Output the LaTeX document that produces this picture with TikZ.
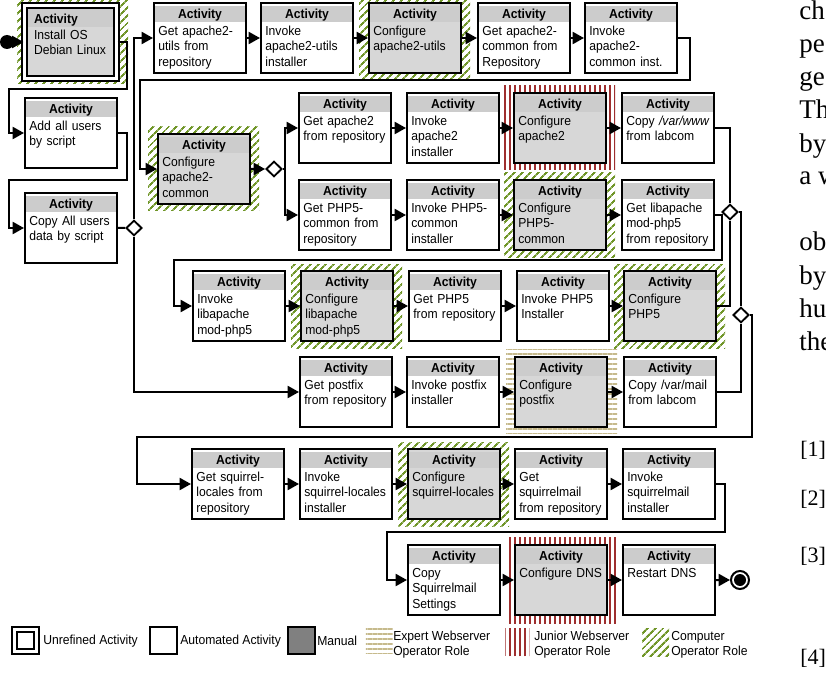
\documentclass[tikz,border=0pt]{standalone}
\usepackage{fontspec}
\setmainfont{Liberation Sans}
\newfontfamily\actfam{Liberation Sans}[FakeStretch=0.93]
\newfontfamily\pagefont{Liberation Serif}
\usetikzlibrary{arrows.meta}
\usetikzlibrary{backgrounds}
\usetikzlibrary{calc}
\usetikzlibrary{shapes.geometric}
\usetikzlibrary{patterns.meta}

\definecolor{bandgray}{RGB}{204,204,204}
\definecolor{mangray}{RGB}{215,215,215}
\definecolor{darkman}{RGB}{128,128,128}
\definecolor{compgreen}{RGB}{112,150,40}
\definecolor{juniorred}{RGB}{158,46,46}
\definecolor{experttan}{RGB}{198,186,140}

\newcommand{\actfont}{\actfam\fontsize{9.8}{11.5}\selectfont}
\newcommand{\acthead}{\setlength{\fboxsep}{0pt}\colorbox{bandgray}{\makebox[\hsize]{\rule[-2.6pt]{0pt}{12pt}\bfseries Activity}}\par\vspace{1.2pt}\leftskip=2.2pt\relax}
\newcommand{\unrefhead}{\setlength{\fboxsep}{0pt}\colorbox{bandgray}{\makebox[\hsize][l]{\rule[-2.75pt]{0pt}{13.5pt}\hspace*{4.5pt}\bfseries Activity}}\par\vspace{0.5pt}\leftskip=4.5pt\relax}

\tikzset{
  act/.style={draw, line width=1.8pt, fill=white, anchor=north west, inner xsep=0.9pt, inner ysep=0pt, text width=66.9pt, align=left, font=\actfont, text height=11.5pt, text depth=40.7pt, execute at begin node=\acthead},
  man/.style={act, fill=mangray},
  unref/.style={draw, double, line width=1.5pt, double distance=2.25pt, fill=mangray, anchor=north west, inner xsep=2.625pt, inner ysep=0pt, text width=63.75pt, align=left, font=\actfont, text height=13.35pt, text depth=41.4pt, execute at begin node=\unrefhead},
  dia/.style={diamond, draw, line width=1.4pt, fill=white, minimum width=12pt, minimum height=11.5pt, inner sep=0pt},
  startdot/.style={circle, fill=black, minimum size=10.5pt, inner sep=0pt},
  enddot/.style={circle, draw, line width=1.5pt, fill=white, minimum size=13.5pt, inner sep=0pt, path picture={\fill[black] (path picture bounding box.center) circle (4.5pt);}},
  flow/.style={line width=1.5pt, -{Triangle[length=8.5pt,width=9pt]}},
  link/.style={line width=1.5pt},
  computer/.style={pattern={Lines[angle=45,distance=4pt,line width=1.6pt]}, pattern color=compgreen},
  junior/.style={pattern={Lines[angle=90,distance=3.75pt,line width=1.9pt]}, pattern color=juniorred},
  expert/.style={pattern={Lines[angle=0,distance=3.75pt,line width=1.4pt]}, pattern color=experttan},
  lgbox/.style={draw, line width=1.8pt, anchor=north west, minimum size=19.95pt, inner sep=0pt},
  legtext/.style={anchor=west, inner sep=0.75pt, font=\actfont, align=left},
  pagetext/.style={anchor=base west, inner sep=0pt, font=\pagefont\fontsize{20.25}{24.75}\selectfont},
  reftext/.style={anchor=base west, inner sep=0pt, font=\pagefont\fontsize{16.5}{19}\selectfont}
}

\begin{document}
\begin{tikzpicture}[x=0.75pt,y=0.75pt,yscale=-1,xscale=1]
\useasboundingbox (0,0) rectangle (826,674);

%Shape: Start and end
\node[startdot] (start) at (7,42) {};
\node[enddot] (stop) at (740,580) {};

%Shape: Left column
\node[unref] (inst) at (23.5,4.5) {Install OS\\Debian Linux};
\node[act] (addusr) at (24,97) {Add all users\\by script};
\node[act] (cpyusr) at (24,192) {Copy All users\\data by script};

%Shape: apache2-utils and apache2-common
\node[act] (getutils) at (153,2) {Get apache2-\\utils from\\repository};
\node[act] (invutils) at (260,2) {Invoke\\apache2-utils\\installer};
\node[man] (confutils) at (368,2) {Configure\\apache2-utils};
\node[act] (getcommon) at (477,2) {Get apache2-\\common from\\Repository};
\node[act] (invcommon) at (584,2) {Invoke\\apache2-\\common inst.};
\node[man] (confcommon) at (157,133) {Configure\\apache2-\\common};

%Shape: apache2
\node[act] (getapache) at (298,92) {Get apache2\\from repository};
\node[act] (invapache) at (406,92) {Invoke\\apache2\\installer};
\node[man] (confapache) at (513,92) {Configure\\apache2};
\node[act] (cpywww) at (621,92) {Copy \textit{/var/www}\\from labcom};

%Shape: PHP5-common
\node[act] (getphpcom) at (298,179) {Get PHP5-\\common from\\repository};
\node[act] (invphpcom) at (406,179) {Invoke PHP5-\\common\\installer};
\node[man] (confphpcom) at (513,179) {Configure\\PHP5-\\common};
\node[act] (getlibap) at (621,179) {Get libapache\\mod-php5\\from repository};

%Shape: libapache and PHP5
\node[act] (invlibap) at (192,270) {Invoke\\libapache\\mod-php5};
\node[man] (conflibap) at (300,270) {Configure\\libapache\\mod-php5};
\node[act] (getphp) at (408,270) {Get PHP5\\from repository};
\node[act] (invphp) at (516,270) {Invoke PHP5\\Installer};
\node[man] (confphp) at (623,270) {Configure\\PHP5};

%Shape: postfix
\node[act] (getpostfix) at (299,356) {Get postfix\\from repository};
\node[act] (invpostfix) at (406,356) {Invoke postfix\\installer};
\node[man] (confpostfix) at (514,356) {Configure\\postfix};
\node[act] (cpymail) at (623,356) {Copy /var/mail\\from labcom};

%Shape: squirrel
\node[act] (getsqloc) at (191,448) {Get squirrel-\\locales from\\repository};
\node[act] (invsqloc) at (299,448) {Invoke\\squirrel-locales\\installer};
\node[man] (confsqloc) at (407,448) {Configure\\squirrel-locales};
\node[act] (getsqmail) at (514,448) {Get\\squirrelmail\\from repository};
\node[act] (invsqmail) at (622,448) {Invoke\\squirrelmail\\installer};

%Shape: DNS
\node[act] (cpysqset) at (407,544) {Copy\\Squirrelmail\\Settings};
\node[man] (confdns) at (514,544) {Configure DNS};
\node[act] (restdns) at (622,544) {Restart DNS};

%Shape: Diamonds
\node[dia] (d0) at (134,228) {};
\node[dia] (d1) at (274,169) {};
\node[dia] (d2) at (730,212) {};
\node[dia] (d3) at (741,315) {};

%Straight Lines
\draw[flow] (start.east) -- (inst.west);
\draw[flow] (inst.east) -| (127,89) -- (9,89) |- (addusr.west);
\draw[flow] (addusr.east) -| (127,180) -- (9,180) |- (cpyusr.west);
\draw[link] (cpyusr.east) -- (d0.west);
\draw[flow] (d0.north) |- (getutils.west);
\draw[flow] (d0.south) |- (getpostfix.west);
\draw[flow] (getutils.east) -- (invutils.west);
\draw[flow] (invutils.east) -- (confutils.west);
\draw[flow] (confutils.east) -- (getcommon.west);
\draw[flow] (getcommon.east) -- (invcommon.west);
\draw[flow] (invcommon.east) -| (690,80) -- (140,80) |- (confcommon.west);
\draw[flow] (confcommon.east) -- (d1.west);
\draw[flow] (d1.east) -- ++(2,0) |- (getapache.west);
\draw[flow] (d1.east) -- ++(2,0) |- (getphpcom.west);
\draw[flow] (getapache.east) -- (invapache.west);
\draw[flow] (invapache.east) -- (confapache.west);
\draw[flow] (confapache.east) -- (cpywww.west);
\draw[link] (cpywww.east) -| (d2.north);
\draw[flow] (getphpcom.east) -- (invphpcom.west);
\draw[flow] (invphpcom.east) -- (confphpcom.west);
\draw[flow] (confphpcom.east) -- (getlibap.west);
\draw[flow] (getlibap.east) -| (722,260) -- (174,260) |- (invlibap.west);
\draw[flow] (invlibap.east) -- (conflibap.west);
\draw[flow] (conflibap.east) -- (getphp.west);
\draw[flow] (getphp.east) -- (invphp.west);
\draw[flow] (invphp.east) -- (confphp.west);
\draw[link] (confphp.east) -| (d2.south);
\draw[link] (d2.east) -| (d3.north);
\draw[flow] (getpostfix.east) -- (invpostfix.west);
\draw[flow] (invpostfix.east) -- (confpostfix.west);
\draw[flow] (confpostfix.east) -- (cpymail.west);
\draw[link] (cpymail.east) -| (d3.south);
\draw[flow] (d3.east) -| (752,437) -- (137,437) |- (getsqloc.west);
\draw[flow] (getsqloc.east) -- (invsqloc.west);
\draw[flow] (invsqloc.east) -- (confsqloc.west);
\draw[flow] (confsqloc.east) -- (getsqmail.west);
\draw[flow] (getsqmail.east) -- (invsqmail.west);
\draw[flow] (invsqmail.east) -| (725,532) -- (387,532) |- (cpysqset.west);
\draw[flow] (cpysqset.east) -- (confdns.west);
\draw[flow] (confdns.east) -- (restdns.west);
\draw[flow] (restdns.east) -- (stop.west);

%Shape: Legend
\node[lgbox, double, line width=1.5pt, double distance=2.25pt, minimum size=16.5pt] (lgunref) at (13.5,628.5) {};
\node[lgbox] (lgauto) at (149,626) {};
\node[lgbox, fill=darkman] (lgman) at (287,626) {};
\node[expert, anchor=north west, minimum width=20.25pt, minimum height=18.75pt, inner sep=0pt] (lgexp) at (365,628) {};
\node[junior, anchor=north west, minimum width=18pt, minimum height=21pt, inner sep=0pt] (lgjun) at (504,627) {};
\node[computer, anchor=north west, minimum width=20.25pt, minimum height=21pt, inner sep=0pt] (lgcomp) at (641,627) {};
% Text Node
\node[legtext] (lgunreftxt) at (42,641) {Unrefined Activity};
% Text Node
\node[legtext] (lgautotxt) at (179,641) {Automated Activity};
% Text Node
\node[legtext] (lgmantxt) at (316,641) {Manual};
% Text Node
\node[legtext] (lgexptxt) at (392,644.5) {Expert Webserver\\Operator Role};
% Text Node
\node[legtext] (lgjuntxt) at (533,644.5) {Junior Webserver\\Operator Role};
% Text Node
\node[legtext] (lgcomptxt) at (670,644.5) {Computer\\Operator Role};

% Text Node
\node[pagetext] (pg1) at (799,20) {ch};
\node[pagetext] (pg2) at (799,53) {pe};
\node[pagetext] (pg3) at (799,86) {ge};
\node[pagetext] (pg4) at (799,119) {Th};
\node[pagetext] (pg5) at (799,152) {by};
\node[pagetext] (pg6) at (799,185) {a w};
\node[pagetext] (pg7) at (799,251) {ob};
\node[pagetext] (pg8) at (799,284) {by};
\node[pagetext] (pg9) at (799,317) {hu};
\node[pagetext] (pg10) at (799,350) {the};
% Text Node
\node[reftext] (rf1) at (800,456) {[1]};
\node[reftext] (rf2) at (800,505) {[2]};
\node[reftext] (rf3) at (800,562) {[3]};
\node[reftext] (rf4) at (800,664) {[4]};

%Shape: Role backgrounds
\begin{scope}[on background layer]
\fill[white] (0,0) rectangle (826,674);
\fill[computer] ($(inst.north west)+(-6.5,-4.5)$) rectangle ($(inst.south east)+(10.5,4.5)$);
\fill[computer] ($(confutils.north west)+(-9,-6)$) rectangle ($(confutils.south east)+(8,6)$);
\fill[computer] ($(confcommon.north west)+(-9,-6)$) rectangle ($(confcommon.south east)+(8,6)$);
\fill[junior] ($(confapache.north west)+(-9,-6)$) rectangle ($(confapache.south east)+(8,6)$);
\fill[computer] ($(confphpcom.north west)+(-9,-6)$) rectangle ($(confphpcom.south east)+(8,6)$);
\fill[computer] ($(conflibap.north west)+(-9,-6)$) rectangle ($(conflibap.south east)+(8,6)$);
\fill[computer] ($(confphp.north west)+(-9,-6)$) rectangle ($(confphp.south east)+(8,6)$);
\fill[expert] ($(confpostfix.north west)+(-8,-7)$) rectangle ($(confpostfix.south east)+(9,5)$);
\fill[computer] ($(confsqloc.north west)+(-9,-6)$) rectangle ($(confsqloc.south east)+(8,6)$);
\fill[junior] ($(confdns.north west)+(-7,-7)$) rectangle ($(confdns.south east)+(9,7)$);
\end{scope}

\end{tikzpicture}
\end{document}
